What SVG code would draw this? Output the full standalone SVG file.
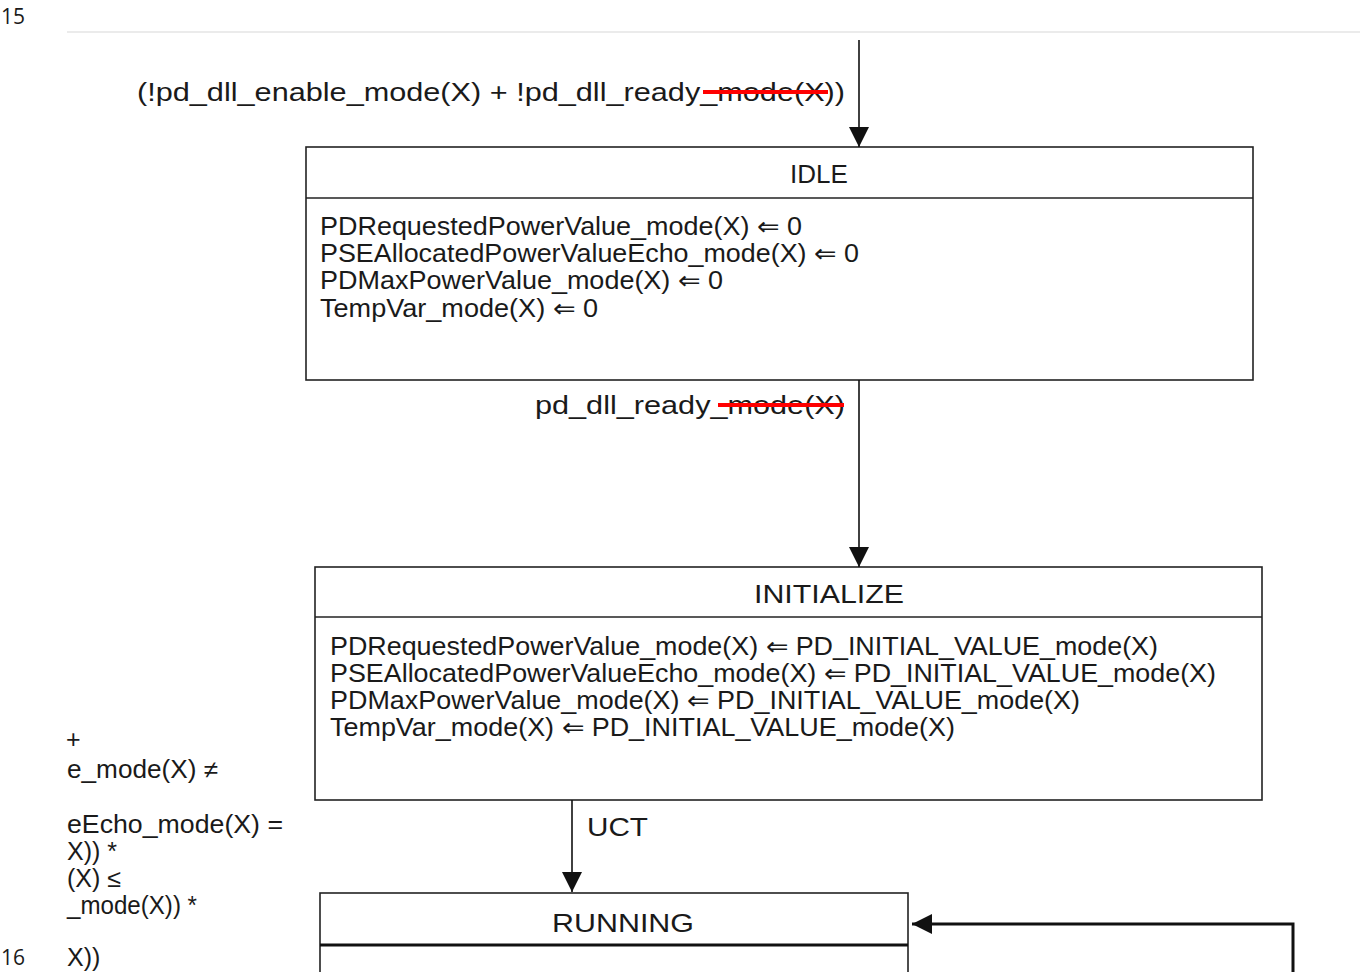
<svg xmlns="http://www.w3.org/2000/svg" width="1360" height="972" viewBox="0 0 1360 972">
<style>
text{font-family:"Liberation Sans",Arial,sans-serif;fill:#1a1a1a}
.lbl{font-size:26px}
.title{font-size:26px;text-anchor:middle}
.body{font-size:25px}
.side{font-size:25px}
.pg{font-family:"Open Sans","Liberation Sans",sans-serif;font-size:21px}
.box{fill:#fff;stroke:#222;stroke-width:1.6}
.div{stroke:#222;stroke-width:1.6}
.conn{fill:none;stroke:#111;stroke-width:1.6}
.strike{stroke:#ff0000;stroke-width:4}
</style>
<defs>
<marker id="ah" viewBox="0 0 20 20" refX="20" refY="10" markerWidth="20" markerHeight="20" markerUnits="userSpaceOnUse" orient="auto">
<path d="M0,0 L20,10 L0,20 z" fill="#111"/>
</marker>
</defs>
<rect width="1360" height="972" fill="#fff"/>
<text class="pg" x="1" y="24">15</text>
<text class="pg" x="1" y="965">16</text>
<line x1="67" y1="32" x2="1360" y2="32" stroke="#ebebeb" stroke-width="2"/>

<g id="side-text">
<text class="side" x="66" y="748">+</text>
<text class="side" x="67" y="778" textLength="151" lengthAdjust="spacingAndGlyphs">e_mode(X) ≠</text>
<text class="side" x="67" y="833" textLength="216" lengthAdjust="spacingAndGlyphs">eEcho_mode(X) =</text>
<text class="side" x="67" y="860">X)) *</text>
<text class="side" x="67" y="887">(X) ≤</text>
<text class="side" x="67" y="914" textLength="130" lengthAdjust="spacingAndGlyphs">_mode(X)) *</text>
<text class="side" x="67" y="966">X))</text>
</g>

<g id="IDLE">
<rect class="box" x="306" y="147" width="947" height="233"/>
<line class="div" x1="306" y1="198" x2="1253" y2="198"/>
<text class="title" x="819" y="183">IDLE</text>
<text class="body" x="320" y="235" textLength="482" lengthAdjust="spacingAndGlyphs">PDRequestedPowerValue_mode(X) ⇐ 0</text>
<text class="body" x="320" y="262" textLength="539" lengthAdjust="spacingAndGlyphs">PSEAllocatedPowerValueEcho_mode(X) ⇐ 0</text>
<text class="body" x="320" y="289" textLength="403" lengthAdjust="spacingAndGlyphs">PDMaxPowerValue_mode(X) ⇐ 0</text>
<text class="body" x="320" y="317" textLength="278" lengthAdjust="spacingAndGlyphs">TempVar_mode(X) ⇐ 0</text>
</g>

<g id="INITIALIZE">
<rect class="box" x="315" y="567" width="947" height="233"/>
<line class="div" x1="315" y1="617" x2="1262" y2="617"/>
<text class="title" x="829" y="603" textLength="150" lengthAdjust="spacingAndGlyphs">INITIALIZE</text>
<text class="body" x="330" y="655" textLength="828" lengthAdjust="spacingAndGlyphs">PDRequestedPowerValue_mode(X) ⇐ PD_INITIAL_VALUE_mode(X)</text>
<text class="body" x="330" y="682" textLength="886" lengthAdjust="spacingAndGlyphs">PSEAllocatedPowerValueEcho_mode(X) ⇐ PD_INITIAL_VALUE_mode(X)</text>
<text class="body" x="330" y="709" textLength="750" lengthAdjust="spacingAndGlyphs">PDMaxPowerValue_mode(X) ⇐ PD_INITIAL_VALUE_mode(X)</text>
<text class="body" x="330" y="736" textLength="625" lengthAdjust="spacingAndGlyphs">TempVar_mode(X) ⇐ PD_INITIAL_VALUE_mode(X)</text>
</g>

<g id="RUNNING">
<rect class="box" x="320" y="893" width="588" height="100"/>
<line x1="320" y1="945" x2="908" y2="945" stroke="#111" stroke-width="3"/>
<text class="title" x="623" y="932" textLength="142" lengthAdjust="spacingAndGlyphs">RUNNING</text>
</g>

<g id="connectors">
<line class="conn" x1="859" y1="40" x2="859" y2="147" marker-end="url(#ah)"/>
<text class="lbl" x="137" y="101" textLength="708" lengthAdjust="spacingAndGlyphs">(!pd_dll_enable_mode(X) + !pd_dll_ready_mode(X))</text>
<line class="strike" x1="703" y1="92" x2="828" y2="92"/>

<line class="conn" x1="859" y1="380" x2="859" y2="567" marker-end="url(#ah)"/>
<text class="lbl" x="535" y="414" textLength="310" lengthAdjust="spacingAndGlyphs">pd_dll_ready_mode(X)</text>
<line class="strike" x1="718" y1="405" x2="844" y2="405"/>

<line class="conn" x1="572" y1="800" x2="572" y2="892" marker-end="url(#ah)"/>
<text class="lbl" x="587" y="836" textLength="61" lengthAdjust="spacingAndGlyphs">UCT</text>

<polyline fill="none" stroke="#111" stroke-width="3" points="1293,972 1293,924 912,924" marker-end="url(#ah)"/>
</g>
</svg>
